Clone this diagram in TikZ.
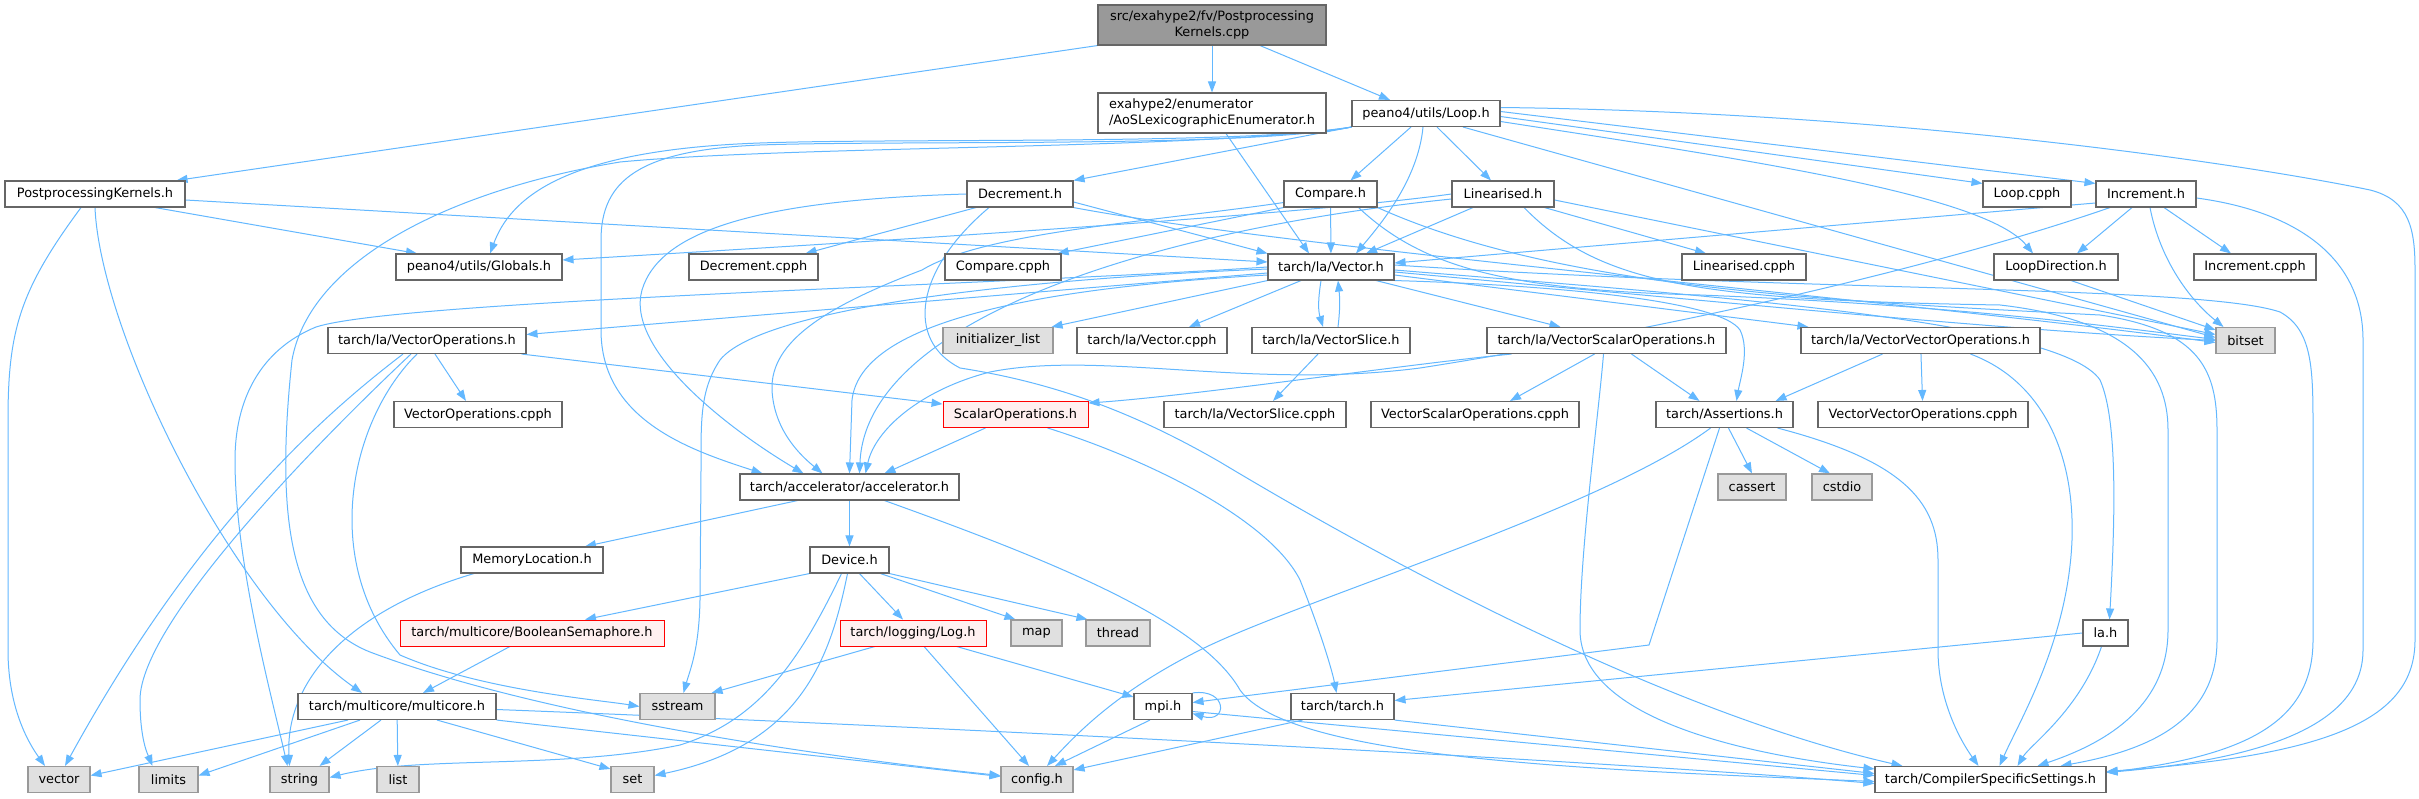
\documentclass[tikz,border=0pt]{standalone}
\usepackage{fontspec}
\setmainfont{DejaVu Sans}
\usepackage{tikz}
\usetikzlibrary{arrows.meta, backgrounds}
\definecolor{edgeblue}{HTML}{63B8FF}
\definecolor{nodeline}{HTML}{666666}
\definecolor{sysfill}{HTML}{E0E0E0}
\definecolor{sysline}{HTML}{999999}
\definecolor{rootfill}{HTML}{999999}
\definecolor{redfill}{HTML}{FFF0F0}

\begin{document}
\begin{tikzpicture}[
  x=1pt, y=-1pt,
  hdr/.style={
    rectangle, draw=nodeline, fill=white, line width=1.1pt,
    font=\fontsize{12.9}{15.5}\selectfont, inner sep=0pt,
    minimum height=26
  },
  sys/.style={hdr, draw=sysline, fill=sysfill},
  bad/.style={hdr, draw=red, fill=redfill, line width=0.9pt},
  arr/.style={-{Triangle[length=11pt,width=8pt]}, draw=edgeblue, line width=1pt}
]
  % top
  \node[hdr, fill=rootfill, minimum width=228, minimum height=40, align=center] (root) at (1212,25) {src/exahype2/fv/Postprocessing\\Kernels.cpp};
  \node[hdr, minimum width=228, minimum height=40, align=left] (aos) at (1212,113) {exahype2/enumerator\\/AoSLexicographicEnumerator.h};
  \node[hdr, minimum width=148] (loop) at (1426,113.5) {peano4/utils/Loop.h};

  \node[hdr, minimum width=180] (pk) at (95,194) {PostprocessingKernels.h};
  \node[hdr, minimum width=106] (dec) at (1020,194) {Decrement.h};
  \node[hdr, minimum width=93] (cmp) at (1330.5,194) {Compare.h};
  \node[hdr, minimum width=102] (lin) at (1503,194) {Linearised.h};
  \node[hdr, minimum width=88] (loopc) at (2027,194) {Loop.cpph};
  \node[hdr, minimum width=100] (inc) at (2146,194) {Increment.h};

  \node[hdr, minimum width=166] (glob) at (479,267) {peano4/utils/Globals.h};
  \node[hdr, minimum width=129] (decc) at (753.5,267) {Decrement.cpph};
  \node[hdr, minimum width=116] (cmpc) at (1003,267) {Compare.cpph};
  \node[hdr, minimum width=126] (vec) at (1331,267) {tarch/la/Vector.h};
  \node[hdr, minimum width=124] (linc) at (1744,267) {Linearised.cpph};
  \node[hdr, minimum width=124] (ld) at (2056,267) {LoopDirection.h};
  \node[hdr, minimum width=122] (incc) at (2255,267) {Increment.cpph};

  \node[hdr, minimum width=198] (vo) at (427,340.5) {tarch/la/VectorOperations.h};
  \node[sys, minimum width=110] (il) at (998,340.5) {initializer\_list};
  \node[hdr, minimum width=150] (vecc) at (1152,340.5) {tarch/la/Vector.cpph};
  \node[hdr, minimum width=158] (vs) at (1331,340.5) {tarch/la/VectorSlice.h};
  \node[hdr, minimum width=239] (vso) at (1606.5,340.5) {tarch/la/VectorScalarOperations.h};
  \node[hdr, minimum width=239] (vvo) at (1920.5,340.5) {tarch/la/VectorVectorOperations.h};
  \node[sys, minimum width=59] (bitset) at (2245.5,340.5) {bitset};

  \node[hdr, minimum width=168] (voc) at (478,414.5) {VectorOperations.cpph};
  \node[bad, minimum width=145] (so) at (1015.5,414.5) {ScalarOperations.h};
  \node[hdr, minimum width=182] (vsc) at (1255,414.5) {tarch/la/VectorSlice.cpph};
  \node[hdr, minimum width=208] (vsoc) at (1475,414.5) {VectorScalarOperations.cpph};
  \node[hdr, minimum width=137] (ass) at (1724.5,414.5) {tarch/Assertions.h};
  \node[hdr, minimum width=210] (vvoc) at (1923,414.5) {VectorVectorOperations.cpph};

  \node[hdr, minimum width=219] (acc) at (849.5,487) {tarch/accelerator/accelerator.h};
  \node[sys, minimum width=68] (cassert) at (1752,487) {cassert};
  \node[sys, minimum width=60] (cstdio) at (1842,487) {cstdio};

  \node[hdr, minimum width=142] (memloc) at (532,560) {MemoryLocation.h};
  \node[hdr, minimum width=79] (device) at (849.5,560) {Device.h};

  \node[bad, minimum width=264] (bs) at (532,633) {tarch/multicore/BooleanSemaphore.h};
  \node[bad, minimum width=146] (log) at (913,633) {tarch/logging/Log.h};
  \node[sys, minimum width=51] (map) at (1036.5,633) {map};
  \node[sys, minimum width=64] (thread) at (1118,633) {thread};
  \node[hdr, minimum width=45] (la) at (2105.5,633) {la.h};

  \node[hdr, minimum width=198] (mc) at (397,706.5) {tarch/multicore/multicore.h};
  \node[sys, minimum width=75] (sstream) at (677.5,706.5) {sstream};
  \node[hdr, minimum width=58] (mpi) at (1163,706.5) {mpi.h};
  \node[hdr, minimum width=103] (tarchh) at (1342.5,706.5) {tarch/tarch.h};

  \node[sys, minimum width=62] (vector) at (59,779.5) {vector};
  \node[sys, minimum width=59] (limits) at (168.5,779.5) {limits};
  \node[sys, minimum width=59] (string) at (299.5,779.5) {string};
  \node[sys, minimum width=42] (list) at (398,779.5) {list};
  \node[sys, minimum width=43] (set) at (632.5,779.5) {set};
  \node[sys, minimum width=72] (config) at (1037,779.5) {config.h};
  \node[hdr, minimum width=231] (css) at (1990.5,779.5) {tarch/CompilerSpecificSettings.h};

  \begin{scope}[on background layer]
  \fill[white] (0,0) rectangle (2419,799);

  \foreach \a/\b in {root/aos,cmp/vec,acc/device,vvo/vvoc,mc/list}
    \draw[arr] (\a)--(\b);

  % source file and its headers
  \draw[arr] (root.south west) -- ([xshift=-9]pk.north east);
  \draw[arr] ([xshift=48]root.south) -- ([xshift=-36]loop.north);
  \draw[arr] ([xshift=14]aos.south) -- ([xshift=-22]vec.north);
  \draw[arr] ([xshift=60]pk.south) -- ([xshift=-62]glob.north);
  \draw[arr] ([yshift=-6]pk.east) -- ([yshift=5]vec.west);
  \draw[arr] (pk.south) .. controls (100,330) and (230,600) .. ([xshift=-35]mc.north);
  \draw[arr] ([xshift=-14]pk.south) .. controls (20,290) and (8,330) .. (8,420) -- (8,650) .. controls (8,710) and (30,745) .. ([xshift=-14]vector.north);

  % Loop.h
  \draw[arr] (loop.south west) -- (dec.north east);
  \draw[arr] ([xshift=-15]loop.south) -- ([xshift=20]cmp.north);
  \draw[arr] ([xshift=-3]loop.south) .. controls (1418,180) and (1380,225) .. ([xshift=25]vec.north);
  \draw[arr] ([xshift=11]loop.south) -- ([xshift=-12]lin.north);
  \draw[arr] ([yshift=-3]loop.east) -- ([yshift=-3]loopc.north west);
  \draw[arr] ([yshift=2]loop.east) -- ([yshift=-3]inc.north west);
  \draw[arr] ([yshift=-8]loop.east) .. controls (1750,160) and (1985,195) .. ([xshift=-23]ld.north);
  \draw[arr] ([xshift=37]loop.south) -- ([yshift=3]bitset.west);
  \draw[arr] ([yshift=6]loop.east) .. controls (1900,112) and (2250,165) .. (2370,190) .. controls (2410,200) and (2415,230) .. (2415,270) -- (2415,640) .. controls (2415,720) and (2330,755) .. ([yshift=8]css.east);
  \draw[arr] (loop.south west) .. controls (1250,145) and (900,138) .. (760,143) .. controls (560,150) and (510,200) .. ([xshift=11]glob.north);
  \draw[arr] (loop.south west) .. controls (1250,148) and (900,140) .. (760,145) .. controls (640,150) and (601,180) .. (601,240) -- (601,330) .. controls (601,420) and (690,450) .. ([xshift=-87]acc.north);
  \draw[arr] (loop.south west) .. controls (1200,150) and (800,145) .. (620,162) .. controls (450,190) and (310,260) .. (292,360) .. controls (275,520) and (290,620) .. (370,652) .. controls (550,720) and (850,760) .. ([yshift=4]config.west);

  % Decrement.h
  \draw[arr] ([xshift=-44]dec.south) -- ([xshift=52]decc.north);
  \draw[arr] ([yshift=-8]dec.east) -- (vec.north west);
  \draw[arr] (dec.south east) .. controls (1300,250) and (1900,300) .. ([yshift=-2]bitset.west);
  \draw[arr] (dec.west) .. controls (760,200) and (660,230) .. (642,290) .. controls (625,350) and (730,430) .. ([xshift=-46]acc.north);
  \draw[arr] ([xshift=-31]dec.south) .. controls (915,270) and (905,340) .. (960,368) .. controls (1050,382) and (1130,410) .. (1220,462) .. controls (1450,600) and (1700,720) .. ([xshift=-88]css.north);

  % Compare.h
  \draw[arr] (cmp.south west) -- ([xshift=-4]cmpc.north east);
  \draw[arr] ([yshift=5]cmp.south west) .. controls (1150,222) and (985,232) .. (922,270) .. controls (830,305) and (770,340) .. (772,390) .. controls (774,430) and (800,455) .. ([xshift=-27]acc.north);
  \draw[arr] ([xshift=28]cmp.south) .. controls (1420,265) and (1500,290) .. (1700,295) .. controls (1950,305) and (2100,325) .. ([yshift=1]bitset.west);
  \draw[arr] (cmp.south east) .. controls (1550,285) and (1800,300) .. (2100,315) .. controls (2200,330) and (2217,370) .. (2217,430) -- (2217,640) .. controls (2217,720) and (2150,750) .. ([xshift=70]css.north);

  % Linearised.h
  \draw[arr] ([xshift=-10]lin.south east) -- ([xshift=-38]linc.north);
  \draw[arr] ([xshift=-30]lin.south) -- ([xshift=35]vec.north);
  \draw[arr] (lin.west) .. controls (1300,215) and (900,240) .. ([yshift=7]glob.east);
  \draw[arr] ([yshift=-5]lin.west) .. controls (1150,230) and (866,320) .. ([xshift=10]acc.north);
  \draw[arr] ([yshift=-6]lin.east) -- ([yshift=6]bitset.west);
  \draw[arr] ([xshift=21]lin.south) .. controls (1600,285) and (1700,300) .. (2000,305) .. controls (2130,320) and (2168,370) .. (2168,430) -- (2168,630) .. controls (2168,710) and (2100,745) .. ([xshift=47]css.north);

  % Increment.h
  \draw[arr] ([xshift=18]inc.south) -- ([xshift=-24]incc.north);
  \draw[arr] ([xshift=-14]inc.south) -- ([xshift=21]ld.north);
  \draw[arr] ([xshift=4]inc.south) .. controls (2160,260) and (2190,300) .. ([xshift=-22]bitset.north);
  \draw[arr] ([yshift=-9]inc.west) -- ([yshift=4]vec.east);
  \draw[arr] ([xshift=-36]inc.south) .. controls (1900,280) and (1600,340) .. (1420,368) .. controls (1250,390) and (1100,350) .. (990,372) .. controls (920,390) and (875,430) .. ([xshift=16]acc.north);
  \draw[arr] ([yshift=-4]inc.east) .. controls (2300,212) and (2363,260) .. (2363,340) -- (2363,650) .. controls (2363,730) and (2250,760) .. ([yshift=7]css.east);
  \draw[arr] ([xshift=15]ld.south) -- ([yshift=-3]bitset.north west);

  % Vector.h
  \draw[arr] ([yshift=-6]vec.west) -- ([yshift=6]vo.east);
  \draw[arr] (vec.south west) -- ([xshift=-2]il.north east);
  \draw[arr] ([xshift=-30]vec.south) -- ([xshift=37]vecc.north);
  \draw[arr] ([xshift=-10]vec.south) .. controls (1318,300) and (1318,310) .. ([xshift=-8]vs.north);
  \draw[arr] ([xshift=7]vs.north) .. controls (1340,310) and (1340,300) .. ([xshift=7]vec.south);
  \draw[arr] ([xshift=45]vec.south) -- ([xshift=-46]vso.north);
  \draw[arr] ([yshift=-8]vec.east) -- ([xshift=8]vvo.north west);
  \draw[arr] ([yshift=-5]vec.east) .. controls (1700,300) and (2000,330) .. (bitset.west);
  \draw[arr] (vec.south east) .. controls (1550,285) and (1720,300) .. (1740,330) .. controls (1750,350) and (1740,380) .. ([xshift=12]ass.north);
  \draw[arr] ([yshift=-3]vec.east) .. controls (1700,295) and (2060,320) .. (2100,380) .. controls (2118,420) and (2115,520) .. ([xshift=4]la.north);
  \draw[arr] ([yshift=2]vec.east) .. controls (1800,292) and (2200,285) .. (2280,312) .. controls (2313,330) and (2313,370) .. (2313,430) -- (2313,640) .. controls (2313,720) and (2250,755) .. ([yshift=7]css.east);
  \draw[arr] ([yshift=-8]vec.west) .. controls (1000,290) and (860,330) .. (852,400) -- (acc.north);
  \draw[arr] ([yshift=-2]vec.west) .. controls (1000,280) and (760,310) .. (720,360) .. controls (700,390) and (701,420) .. (701,470) -- (700,600) .. controls (699,650) and (690,670) .. ([xshift=6]sstream.north);
  \draw[arr] (vec.west) .. controls (1000,285) and (400,300) .. (316,327) .. controls (260,350) and (235,400) .. (235,460) .. controls (235,560) and (270,690) .. ([xshift=-12]string.north);
  \draw[arr] ([xshift=-13]vs.south) -- ([xshift=18]vsc.north);

  % VectorOperations.h
  \draw[arr] ([xshift=8]vo.south) -- ([xshift=-12]voc.north);
  \draw[arr] ([xshift=-5]vo.south east) -- ([yshift=-3]so.north west);
  \draw[arr] ([xshift=-24]vo.south) .. controls (330,410) and (200,520) .. ([xshift=6]vector.north);
  \draw[arr] ([xshift=-16]vo.south) .. controls (330,430) and (140,620) .. (140,700) .. controls (140,740) and (148,755) .. ([xshift=-16]limits.north);
  \draw[arr] ([xshift=-10]vo.south) .. controls (350,420) and (320,560) .. (400,655) .. controls (480,690) and (600,700) .. (sstream.west);

  % scalar / vector operations
  \draw[arr] ([xshift=-30]so.south) -- ([xshift=35]acc.north);
  \draw[arr] ([xshift=32]so.south) .. controls (1150,460) and (1270,520) .. (1300,580) .. controls (1320,630) and (1332,670) .. ([xshift=-6]tarchh.north);
  \draw[arr] ([xshift=25]vso.south west) .. controls (1400,365) and (1200,395) .. ([yshift=-2]so.north east);
  \draw[arr] ([xshift=-12]vso.south) -- ([xshift=35]vsoc.north);
  \draw[arr] ([xshift=25]vso.south) -- ([xshift=-25]ass.north);
  \draw[arr] ([xshift=-3]vso.south) .. controls (1598,420) and (1580,550) .. (1580,630) .. controls (1580,720) and (1750,755) .. ([yshift=-3]css.north west);
  \draw[arr] ([xshift=-38]vvo.south) -- ([xshift=-18]ass.north east);
  \draw[arr] ([xshift=50]vvo.south) .. controls (2040,380) and (2075,450) .. (2072,540) .. controls (2068,640) and (2020,720) .. ([xshift=9]css.north);

  % Assertions.h
  \draw[arr] ([xshift=4]ass.south) -- (cassert.north);
  \draw[arr] ([xshift=22]ass.south) -- ([xshift=-12]cstdio.north);
  \draw[arr] ([xshift=-16]ass.south east) .. controls (1900,460) and (1938,500) .. (1938,560) -- (1938,650) .. controls (1938,700) and (1960,740) .. ([xshift=-12]css.north);
  \draw[arr] ([xshift=-14]ass.south) .. controls (1600,510) and (1300,600) .. (1200,650) .. controls (1120,690) and (1080,730) .. ([xshift=10]config.north);
  \draw[arr] ([xshift=-5]ass.south) -- (1649,645) -- ([yshift=4]mpi.east);

  % accelerator and below
  \draw[arr] ([xshift=-52]acc.south) -- ([xshift=53]memloc.north);
  \draw[arr] ([xshift=35]acc.south) .. controls (1050,560) and (1200,620) .. (1240,690) .. controls (1290,760) and (1600,770) .. ([yshift=-2]css.west);
  \draw[arr] ([xshift=-58]memloc.south) .. controls (350,610) and (285,680) .. ([xshift=-10]string.north);
  \draw[arr] (device.south west) -- ([xshift=53]bs.north);
  \draw[arr] ([xshift=10]device.south) -- ([xshift=-10]log.north);
  \draw[arr] ([xshift=31]device.south) -- ([xshift=5]map.north west);
  \draw[arr] (device.south east) -- ([xshift=2]thread.north west);
  \draw[arr] ([xshift=-8]device.south) .. controls (800,660) and (760,720) .. (680,745) .. controls (560,770) and (420,755) .. ([yshift=2]string.east);
  \draw[arr] ([xshift=-2]device.south) .. controls (830,660) and (800,745) .. ([yshift=4]set.east);
  \draw[arr] ([xshift=-38]log.south) -- ([xshift=-4]sstream.north east);
  \draw[arr] ([xshift=11]log.south) -- ([xshift=-8]config.north);
  \draw[arr] ([xshift=-30]log.south east) -- ([yshift=-4]mpi.north west);
  \draw[arr] ([xshift=-13]mpi.south) -- ([xshift=18]config.north);
  \draw[arr] (mpi.north east) .. controls (1228,688) and (1228,724) .. ([yshift=-7]mpi.east);
  \draw[arr] ([yshift=-5]mpi.east) -- ([yshift=4]css.west);
  \draw[arr] ([xshift=-40]tarchh.south) -- ([yshift=-4]config.north east);
  \draw[arr] (tarchh.south east) -- ([yshift=6]css.west);
  \draw[arr] (la.west) -- ([yshift=6]tarchh.east);
  \draw[arr] ([xshift=-4]la.south) .. controls (2080,710) and (2030,745) .. ([xshift=27]css.north);
  \draw[arr] ([xshift=-22]bs.south) -- ([xshift=26]mc.north);

  % multicore.h
  \draw[arr] ([xshift=-49]mc.south) -- ([yshift=4]vector.east);
  \draw[arr] ([xshift=-37]mc.south) -- ([yshift=4]limits.east);
  \draw[arr] ([xshift=-16]mc.south) -- ([xshift=-10]string.north east);
  \draw[arr] ([xshift=40]mc.south) -- ([yshift=-3]set.north west);
  \draw[arr] (mc.south east) -- ([yshift=3]config.west);
  \draw[arr] ([yshift=-3]mc.east) .. controls (900,725) and (1600,760) .. ([yshift=-4]css.west);
  \end{scope}

  \useasboundingbox (0,0) rectangle (2419,799);
\end{tikzpicture}
\end{document}
